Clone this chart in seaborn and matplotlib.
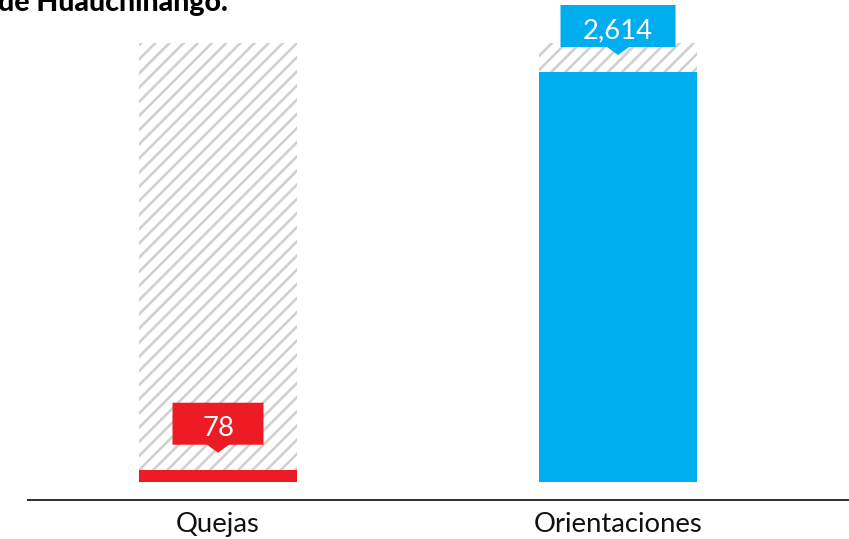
import pandas as pd
import seaborn as sns
import matplotlib
import matplotlib.pyplot as plt
from matplotlib.patches import Polygon
from matplotlib.transforms import IdentityTransform

matplotlib.use('Agg')

# Datos
categorias = ['Quejas', 'Orientaciones']
valores = [78, 2614]
fondo = [2800, 2800]
etiquetas = ['78', '2,614']
colores = ['#ED1C24', '#00AEEF']
titulo = 'de Huauchinango.'

DPI = 85


def pt(n):
    # pixels -> points at this dpi
    return n * 72 / DPI


sns.set_theme(style='white')
plt.rcParams['font.family'] = ['Lato', 'DejaVu Sans']
plt.rcParams['hatch.linewidth'] = pt(2.6)

fig = plt.figure(figsize=(849 / DPI, 539 / DPI), dpi=DPI)
ax = fig.add_axes([28 / 849, 39 / 539, 821 / 849, 500 / 539])

df = pd.DataFrame({'categoria': categorias, 'valor': valores, 'fondo': fondo})

# hatched background bars
sns.barplot(data=df, x='categoria', y='fondo', color='white', width=0.395,
            saturation=1, ax=ax)
for p in ax.patches:
    p.set_hatch('//')
    p.set_edgecolor('#d0d0d0')
    p.set_linewidth(0)
n_bg = len(ax.patches)

# actual values
sns.barplot(data=df, x='categoria', y='valor', hue='categoria', palette=colores,
            width=0.395, saturation=1, legend=False, ax=ax)
for p in ax.patches[n_bg:]:
    p.set_linewidth(0)

ax.set_xlim(-0.475, 1.5775)
ax.set_ylim(-115, 3073)
ax.set_yticks([])
ax.set_xlabel('')
ax.set_ylabel('')
sns.despine(ax=ax, left=True)
ax.spines['bottom'].set_color('#333333')
ax.spines['bottom'].set_linewidth(pt(2))
ax.tick_params(axis='x', length=0, pad=pt(12), labelsize=pt(27.5), colors='#111111')

# callouts above the bars
anchos = [91, 115]
for i, (v, txt, c, w) in enumerate(zip(valores, etiquetas, colores, anchos)):
    x0, y0 = ax.transData.transform((i, v))
    b = y0 + 25
    pts = [(x0 - w / 2, b), (x0 - 11, b), (x0, b - 8), (x0 + 11, b),
           (x0 + w / 2, b), (x0 + w / 2, b + 42), (x0 - w / 2, b + 42)]
    fig.add_artist(Polygon(pts, closed=True, facecolor=c, edgecolor='none',
                           transform=IdentityTransform(), zorder=5))
    fig.text(x0, b + 9, txt, transform=IdentityTransform(), ha='center',
             va='baseline', color='white', fontsize=pt(27.5), zorder=6)

fig.text(-2 / 849, 1 - 11 / 539, titulo, fontweight=900, fontsize=pt(28.5),
         va='baseline', ha='left', color='black')

fig.savefig('out.png', dpi=DPI)
